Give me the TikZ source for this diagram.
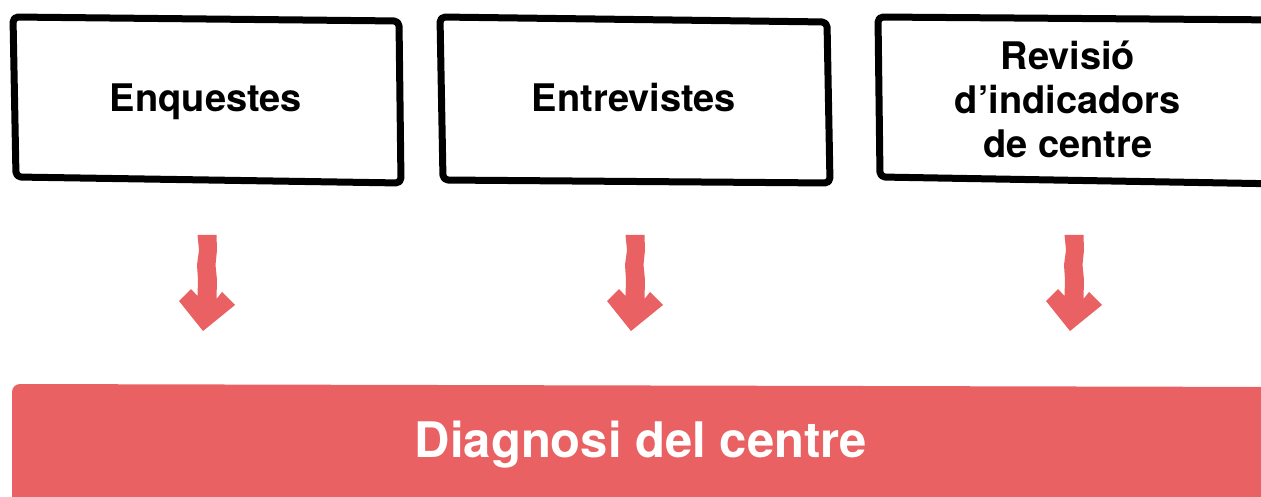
\documentclass[tikz,border=0pt]{standalone}
\usepackage{fontspec}
\setmainfont{TeX Gyre Heros}
\definecolor{diagred}{RGB}{234,97,99}
\tikzset{
  handbox/.style={draw=black, line width=7pt, line join=round, line cap=round, rounded corners=5pt},
  boxtext/.style={font=\fontsize{38}{44}\selectfont\bfseries, align=center, inner sep=0pt},
  bigtext/.style={font=\fontsize{49}{54}\selectfont\bfseries, text=white, inner sep=0pt},
  downarrow/.pic={\fill[diagred, line join=round] (-9.5,235) -- (-8,250) -- (-10,265) -- (-9,280) -- (-9.5,296) -- (-16,289) -- (-28,301) -- (-4,331) -- (28,305) -- (15,292) -- (9.5,299) -- (10,280) -- (8.5,265) -- (10,250) -- (9.5,235) -- cycle;}
}
\begin{document}
\begin{tikzpicture}[x=1pt,y=-1pt]
\useasboundingbox (0,0) rectangle (1261,497);
\clip (0,0) rectangle (1261,497);
% top boxes
\draw[handbox] (13,17) -- (399,21) -- (401,183) -- (16,177) -- cycle;
\draw[handbox] (440,17) -- (827,22) -- (830,183) -- (443,180) -- cycle;
\draw[handbox] (1285,20) -- (878,17) -- (880,177) -- (1285,184);
\node[boxtext, anchor=base] (enq) at (206,112) {Enquestes};
\node[boxtext, anchor=base] (ent) at (634,112) {Entrevistes};
\node[boxtext] (rev) at (1068,99) {Revisió\\d’indicadors\\de centre};
% bottom bar
\fill[diagred, rounded corners=8pt] (12,384) -- (1290,387) -- (1290,540) -- (12,540) -- cycle;
\node[bigtext, anchor=base] (diag) at (641,457) {Diagnosi del centre};
% arrows
\pic at (207,0) {downarrow};
\pic at (635,0) {downarrow};
\pic at (1074,0) {downarrow};
\end{tikzpicture}
\end{document}
